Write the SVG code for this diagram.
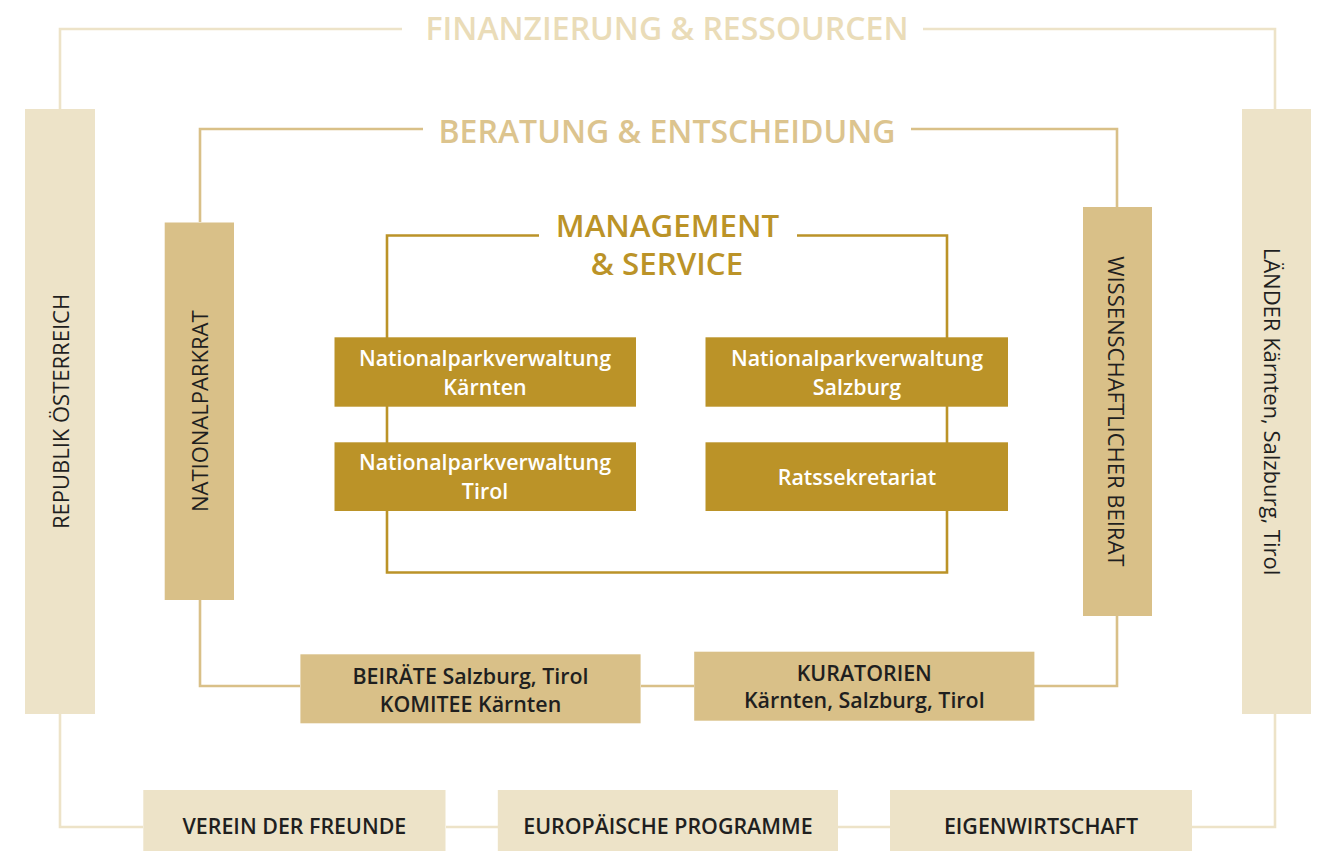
<svg xmlns="http://www.w3.org/2000/svg" width="1322" height="851" viewBox="0 0 1322 851">
<style>
text{font-family:"Open Sans","Noto Sans","DejaVu Sans",sans-serif;text-anchor:middle}
.l1{fill:#EDE3C8}
.l2{fill:#D9C088}
.l3{fill:#BB9328}
.c1{fill:none;stroke:#EDE3C8;stroke-width:2.6}
.c2{fill:none;stroke:#D9C088;stroke-width:2.6}
.c3{fill:none;stroke:#BB9328;stroke-width:2.6}
.h{font-weight:600;font-size:32px}
.v{font-weight:500;font-size:22px;fill:#1f1f1f}
.w{font-weight:600;font-size:21.4px;fill:#ffffff}
.d{font-weight:600;font-size:21.4px;fill:#1f1f1f}
</style>
<rect width="1322" height="851" fill="#ffffff"/>
<g id="connectors">
<path class="c1" d="M60,109 V29 H402 M923,29 H1275 V109"/>
<path class="c1" d="M60,714 V827 H143 M446,827 H498 M838,827 H890 M1192,827 H1275 V714"/>
<path class="c2" d="M200,222 V129 H423 M911,129 H1117 V207"/>
<path class="c2" d="M200,600 V686 H300 M641,686 H694 M1034,686 H1117 V616"/>
<path class="c3" d="M539,235.5 H387 V572.5 H947 V235.5 H797"/>
</g>
<g id="title-finanzierung"><text class="h" x="667" y="39.5" fill="#EADCB8">FINANZIERUNG &amp; RESSOURCEN</text></g>
<g id="title-beratung"><text class="h" x="667" y="143.3" fill="#DCC48E">BERATUNG &amp; ENTSCHEIDUNG</text></g>
<g id="title-management"><text class="h" x="667.5" y="236.5" fill="#BB9328" style="font-size:31.3px">MANAGEMENT</text><text class="h" x="667" y="275" fill="#BB9328" style="font-size:31.3px">&amp; SERVICE</text></g>
<g id="republik"><rect class="l1" x="25" y="109" width="70" height="605"/><text class="v" transform="translate(68.5,411.5) rotate(-90)">REPUBLIK ÖSTERREICH</text></g>
<g id="nationalparkrat"><rect class="l2" x="164.7" y="222.5" width="69.3" height="377.5"/><text class="v" transform="translate(208,411.3) rotate(-90)">NATIONALPARKRAT</text></g>
<g id="wiss-beirat"><rect class="l2" x="1083" y="207" width="69" height="409"/><text class="v" transform="translate(1108,411.3) rotate(90)">WISSENSCHAFTLICHER BEIRAT</text></g>
<g id="laender"><rect class="l1" x="1242" y="109" width="69" height="605"/><text class="v" transform="translate(1263.5,411.5) rotate(90)">LÄNDER Kärnten, Salzburg, Tirol</text></g>
<g id="npv-kaernten"><rect class="l3" x="334.5" y="337.3" width="301.5" height="69.4"/><text class="w" x="485" y="365.7">Nationalparkverwaltung</text><text class="w" x="485" y="395">Kärnten</text></g>
<g id="npv-salzburg"><rect class="l3" x="705.5" y="337.3" width="302.5" height="69.4"/><text class="w" x="857" y="365.7">Nationalparkverwaltung</text><text class="w" x="857" y="395">Salzburg</text></g>
<g id="npv-tirol"><rect class="l3" x="334.5" y="442.3" width="301.5" height="68.7"/><text class="w" x="485" y="470">Nationalparkverwaltung</text><text class="w" x="485" y="499.3">Tirol</text></g>
<g id="ratssekretariat"><rect class="l3" x="705.5" y="442.3" width="302.5" height="68.7"/><text class="w" x="857" y="485">Ratssekretariat</text></g>
<g id="beiraete"><rect class="l2" x="300.4" y="654.3" width="340.2" height="69"/><text class="d" x="470.5" y="684">BEIRÄTE Salzburg, Tirol</text><text class="d" x="470.5" y="711.7">KOMITEE Kärnten</text></g>
<g id="kuratorien"><rect class="l2" x="694.2" y="651.7" width="340.2" height="69"/><text class="d" x="864.3" y="680.7">KURATORIEN</text><text class="d" x="864.3" y="707.7">Kärnten, Salzburg, Tirol</text></g>
<g id="verein"><rect class="l1" x="143.3" y="790" width="302.2" height="72"/><text class="d" x="294.4" y="833.5">VEREIN DER FREUNDE</text></g>
<g id="europaeische"><rect class="l1" x="497.8" y="790" width="340.2" height="72"/><text class="d" x="667.9" y="833.5">EUROPÄISCHE PROGRAMME</text></g>
<g id="eigenwirtschaft"><rect class="l1" x="890" y="790" width="302" height="72"/><text class="d" x="1041" y="833.5">EIGENWIRTSCHAFT</text></g>
</svg>
